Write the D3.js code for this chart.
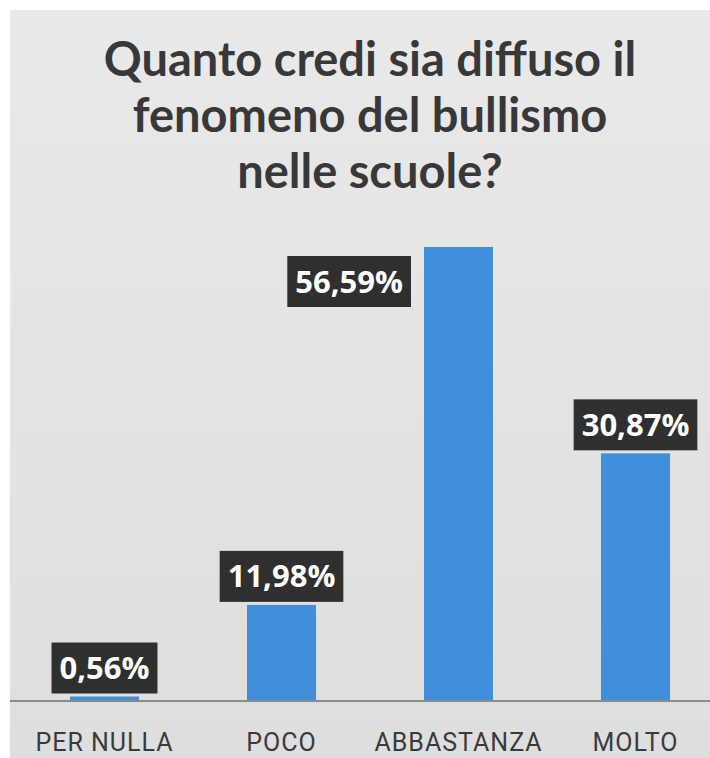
<!DOCTYPE html>
<html>
<head>
<meta charset="utf-8">
<script src="https://cdn.jsdelivr.net/npm/d3@7/dist/d3.min.js"></script>
<style>
  html, body { margin: 0; padding: 0; background: #ffffff; }
  svg { display: block; }
</style>
</head>
<body>
<svg id="chart" width="710" height="758"></svg>
<script>
// Survey answers and their shares (percent)
const categories = ["PER NULLA", "POCO", "ABBASTANZA", "MOLTO"];
const values = [0.56, 11.98, 56.59, 30.87];
const valueLabels = ["0,56%", "11,98%", "56,59%", "30,87%"];
const titleLines = ["Quanto credi sia diffuso il", "fenomeno del bullismo", "nelle scuole?"];

const W = 710, H = 758;
const svg = d3.select("#chart");

// Panel background
const defs = svg.append("defs");
const grad = defs.append("linearGradient").attr("id", "bg").attr("x1", 0).attr("y1", 0).attr("x2", 0).attr("y2", 1);
grad.append("stop").attr("offset", "0%").attr("stop-color", "#e9e9e9");
grad.append("stop").attr("offset", "100%").attr("stop-color", "#dedede");
svg.append("rect").attr("x", 10).attr("y", 10).attr("width", W - 10).attr("height", H - 10).attr("fill", "url(#bg)");

// Scales
const baseline = 701;
const x = d3.scaleBand().domain(categories).range([16, 724]).paddingInner(0.61).paddingOuter(0.305);
const y = d3.scaleLinear().domain([0, 56.59]).range([baseline, 247]);

// Title
const title = svg.append("text")
  .attr("x", 370).attr("y", 76)
  .attr("text-anchor", "middle")
  .attr("font-family", "Lato, 'Open Sans', sans-serif")
  .attr("font-weight", "bold")
  .attr("font-size", 47)
  .attr("fill", "#383838");
title.selectAll("tspan").data(titleLines).join("tspan")
  .attr("x", 370).attr("dy", (d, i) => i === 0 ? 0 : 56)
  .text(d => d);

// Bars
svg.append("g").selectAll("rect").data(values).join("rect")
  .attr("x", (d, i) => x(categories[i]))
  .attr("width", x.bandwidth())
  .attr("y", d => y(d))
  .attr("height", d => baseline - y(d))
  .attr("fill", "#3f8fdb");

// Category axis
const axis = svg.append("g").attr("transform", `translate(0,${baseline})`)
  .call(d3.axisBottom(x).tickSize(0).tickPadding(32));
axis.select(".domain").remove();
axis.append("line").attr("x1", 10).attr("x2", W).attr("y1", 0).attr("y2", 0)
  .attr("stroke", "#8a8a8a").attr("stroke-width", 2);
axis.selectAll(".tick text")
  .attr("font-family", "Roboto, 'Open Sans', sans-serif")
  .attr("font-size", 25)
  .attr("letter-spacing", 1)
  .attr("fill", "#3a3a3a");

// Value labels in dark boxes
const boxH = 51, padX = 8, gap = 3, topLimit = 200;
const labels = svg.append("g").selectAll("g").data(values).join("g");
labels.each(function (d, i) {
  const g = d3.select(this);
  const t = g.append("text")
    .attr("font-family", "'Open Sans', sans-serif")
    .attr("font-weight", "bold")
    .attr("font-size", 31)
    .attr("fill", "#ffffff")
    .attr("text-anchor", "middle")
    .text(valueLabels[i]);
  const tw = t.node().getComputedTextLength();
  const bw = tw + padX * 2;
  let cx = x(categories[i]) + x.bandwidth() / 2;
  let top = y(d) - gap - boxH;
  if (top < topLimit) {
    // not enough room above: set the label beside the bar, near its top
    cx = x(categories[i]) - 13 - bw / 2;
    top = y(d) + 9;
  }
  g.insert("rect", "text")
    .attr("x", cx - bw / 2).attr("y", top)
    .attr("width", bw).attr("height", boxH)
    .attr("fill", "#2f2f2f");
  t.attr("x", cx).attr("y", top + boxH / 2 + 11);
});
</script>
</body>
</html>
